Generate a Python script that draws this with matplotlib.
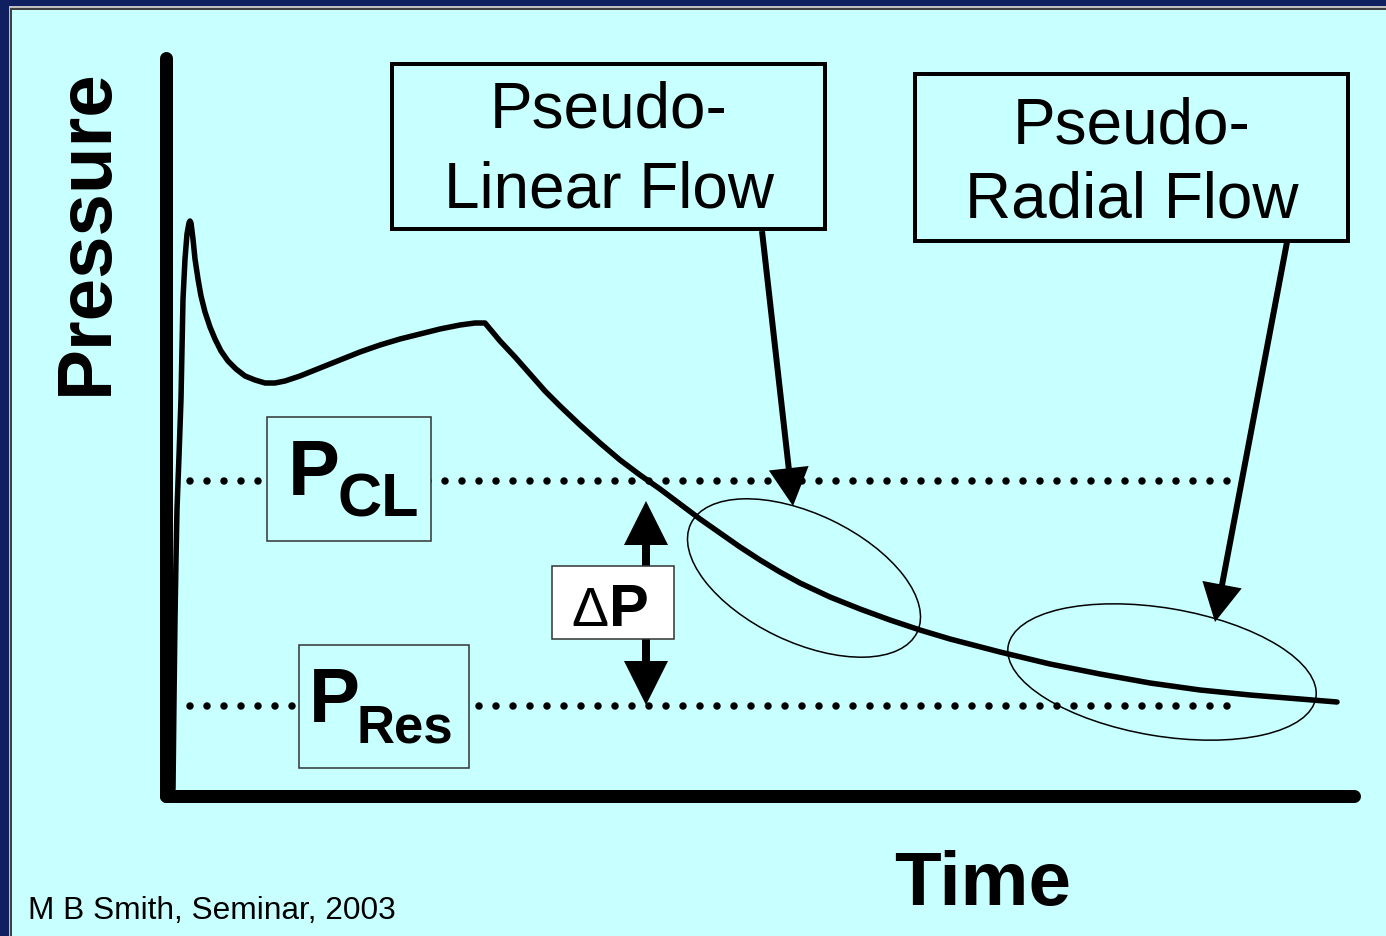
import matplotlib
matplotlib.use('Agg')
import matplotlib.pyplot as plt
from matplotlib import font_manager
from matplotlib.patches import Rectangle, Ellipse

W, H = 1386, 937

# schematic pressure response (screen units, y grows downward)
curve_t = [173, 174, 175, 176, 177, 179, 181, 182, 183, 185, 187, 189, 190, 191,
           193, 195, 198, 201, 205, 210, 215, 221, 228, 236, 245, 255, 265, 275,
           285, 300, 320, 340, 360, 380, 400, 420, 440, 460, 475, 485, 490, 500,
           515, 530, 545, 560, 580, 600, 620, 640, 660, 680, 700, 720, 740, 760,
           780, 800, 830, 860, 890, 920, 950, 1000, 1050, 1100, 1150, 1200, 1250,
           1300, 1337]
curve_p = [790, 700, 620, 560, 510, 457, 400, 350, 300, 260, 235, 224, 222, 224,
           240, 260, 280, 297, 313, 328, 340, 352, 362, 370, 377, 381, 384, 384,
           382, 377, 369, 361, 353, 346, 340, 335, 330, 326, 324, 324, 330, 342,
           358, 375, 392, 407, 426, 444, 461, 476, 490, 505, 520, 534, 548, 561,
           573, 584, 598, 610, 621, 631, 640, 653, 665, 675, 684, 691, 696,
           700, 703]

# closure and reservoir pressure levels
p_cl = 482
p_res = 707
level_t = [190, 1230]

# flow regime labels
flow_labels = [("Pseudo-", "Linear Flow"), ("Pseudo-", "Radial Flow")]

BG = '#c8ffff'
NAVY = '#0f1f5f'
PX = 0.72  # points per pixel at 100 dpi

names = {f.name for f in font_manager.fontManager.ttflist}
narrow = 'Liberation Sans Narrow' if 'Liberation Sans Narrow' in names else 'Liberation Sans'
plt.rcParams['font.family'] = ['Liberation Sans', 'DejaVu Sans']
plt.rcParams['lines.scale_dashes'] = False

fig = plt.figure(figsize=(W / 100, H / 100), dpi=100)
fig.patch.set_facecolor(BG)
ax = fig.add_axes([0, 0, 1, 1])
ax.set_xlim(0, W)
ax.set_ylim(H, 0)
ax.axis('off')

# slide frame along top and left edges
for col, left, top in [('#404040', 12, 10.5), ('#c0c0c0', 10, 8.5), (NAVY, 8.5, 6.5)]:
    ax.add_patch(Rectangle((0, 0), left, H, color=col, lw=0, zorder=10))
    ax.add_patch(Rectangle((0, 0), W, top, color=col, lw=0, zorder=10))

# axes
ax.plot([166, 166], [59, 797], color='black', lw=13 * PX, solid_capstyle='round', zorder=3)
ax.plot([166, 1354], [797, 797], color='black', lw=13 * PX, solid_capstyle='round', zorder=3)

# dotted pressure levels
for lev in (p_cl, p_res):
    ax.plot(level_t, [lev, lev], color='black', lw=7.5 * PX,
            linestyle=(0, (0.01, 17 * PX - 0.01)), dash_capstyle='round', zorder=2)

# pressure curve
ax.plot(curve_t, curve_p, color='black', lw=5.5 * PX, solid_joinstyle='round',
        solid_capstyle='round', zorder=4)

# regions of each flow regime
ax.add_patch(Ellipse((804, 579), 251, 128, angle=25.6, fill=False, ec='black', lw=1.1, zorder=5))
ax.add_patch(Ellipse((1162, 673), 312, 128, angle=9.5, fill=False, ec='black', lw=1.1, zorder=5))

# flow regime boxes and arrows
boxes = [(392, 65, 825, 230, 127, 207), (915, 75, 1348, 242, 143, 217)]
for (x0, y0, x1, y1, b1, b2), (l1, l2) in zip(boxes, flow_labels):
    ax.add_patch(Rectangle((x0, y0), x1 - x0, y1 - y0, fc=BG, ec='black', lw=4 * PX, zorder=6))
    xc = (x0 + x1) / 2
    ax.text(xc, b1, l1, ha='center', va='baseline', fontsize=46, zorder=7)
    ax.text(xc, b2, l2, ha='center', va='baseline', fontsize=46, zorder=7)

for (xs, ys), (xt, yt) in [((762, 232), (793, 507)), ((1287, 243), (1215, 623))]:
    ax.arrow(xs, ys, xt - xs, yt - ys, width=6, head_width=40, head_length=38,
             length_includes_head=True, fc='black', ec='black', lw=0, zorder=5)

# delta P double arrow
mid = (p_cl + p_res) / 2
for tip in (p_cl + 20, p_res - 1):
    ax.arrow(646, mid, 0, tip - mid, width=8, head_width=44, head_length=44,
             length_includes_head=True, fc='black', ec='black', lw=0, zorder=5)
ax.add_patch(Rectangle((552, 567), 122, 73, fc='white', ec='#333333', lw=1.1, zorder=6))
ax.text(571, 626, '\u0394', ha='left', va='baseline', fontsize=40, zorder=7)
ax.text(609, 626, 'P', ha='left', va='baseline', fontsize=43, fontweight='bold', zorder=7)

# level labels
ax.add_patch(Rectangle((267, 418), 164, 124, fc=BG, ec='#333333', lw=1.1, zorder=6))
ax.text(288, 495, 'P', ha='left', va='baseline', fontsize=56, fontweight='bold', zorder=7)
ax.text(337, 517, 'CL', ha='left', va='baseline', fontsize=44, fontweight='bold',
        family=[narrow, 'Liberation Sans'], zorder=7)
ax.add_patch(Rectangle((299, 646), 170, 123, fc=BG, ec='#333333', lw=1.1, zorder=6))
ax.text(309, 722, 'P', ha='left', va='baseline', fontsize=55, fontweight='bold', zorder=7)
ax.text(356, 743, 'Res', ha='left', va='baseline', fontsize=38, fontweight='bold', zorder=7)

# axis titles
ax.text(107, 232, 'Pressure', rotation=90, rotation_mode='anchor', ha='center',
        va='baseline', fontsize=55, fontweight='bold')
ax.text(983, 905, 'Time', ha='center', va='baseline', fontsize=55, fontweight='bold')
ax.text(28, 919, 'M B Smith, Seminar, 2003', ha='left', va='baseline', fontsize=22.8)

fig.savefig('out.png', dpi=100, facecolor=BG)
